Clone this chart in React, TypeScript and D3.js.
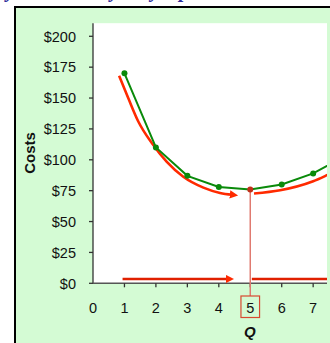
import React from "react";
import * as d3 from "d3";

const quantities = [1, 2, 3, 4, 5, 6, 7, 8];
const atcValues = [170, 110, 87, 78, 76, 80, 89, 103];
const yTicks = [0, 25, 50, 75, 100, 125, 150, 175, 200];
const xTicks = [0, 1, 2, 3, 4, 5, 6, 7];
const minQ = 5;
const redLeftQ = [0.83, 1.12, 1.44, 1.87, 2.34, 2.87, 3.51, 4.04, 4.43];
const redLeftC = [168, 150, 131, 113.5, 98.5, 86.3, 77.5, 73.2, 71.7];
const redRightQ = [5.12, 5.95, 7.0, 7.54, 8.0];
const redRightC = [72.7, 75.3, 82.6, 88.7, 94];
const floorQ1 = [0.94, 4.3];
const floorQ2 = [5.05, 8];
const floorC = 3.5;
const title = "Why a Firm May Stay Open in the Short Run";

export default function App() {
  const W = 330, H = 343;
  const x = d3.scaleLinear().domain([0, 7.44]).range([93, 327]);
  const y = d3.scaleLinear().domain([0, 210.6]).range([283.3, 23.2]);
  const green = "#0a8a0a";
  const red = "#ff2a00";
  const font = "Arial, 'Liberation Sans', sans-serif";

  const atcPts = quantities.map((q, i) => [x(q), y(atcValues[i])] as [number, number]);
  const greenLine = d3.line()(atcPts) || "";
  const curve = d3.line<[number, number]>().curve(d3.curveMonotoneX);
  const redLeft = curve(redLeftQ.map((q, i) => [x(q), y(redLeftC[i])])) || "";
  const redRight = curve(redRightQ.map((q, i) => [x(q), y(redRightC[i])])) || "";
  const floor1 = d3.line()(floorQ1.map((q) => [x(q), y(floorC)] as [number, number])) || "";
  const floor2 = d3.line()(floorQ2.map((q) => [x(q), y(floorC)] as [number, number])) || "";

  const plotL = x(0), plotR = x(7.44), plotT = y(210.6), plotB = y(0);

  return (
    <svg width={W} height={H} style={{ position: "absolute", left: 0, top: 0 }}>
      <defs>
        <clipPath id="plotclip">
          <rect x={plotL} y={plotT - 2} width={plotR - plotL} height={plotB - plotT + 6} />
        </clipPath>
        <marker id="arr" viewBox="0 0 10 10" refX="3" refY="5" markerWidth="3.2" markerHeight="3.4" orient="auto" markerUnits="strokeWidth">
          <path d="M0,0 L10,5 L0,10 Z" fill={red} />
        </marker>
      </defs>
      <rect x={0} y={0} width={W} height={H} fill="#ffffff" />
      <text x={165} y={-3} textAnchor="middle" fontFamily="'Liberation Serif', 'Times New Roman', serif" fontWeight="bold" fontStyle="italic" fontSize={20} fill="#2b2b9a">{title}</text>
      <rect x={15} y={7} width={W + 10} height={H + 10} fill="#d4fbd4" stroke="#000" strokeWidth={2} />
      <rect x={plotL} y={plotT} width={plotR - plotL} height={plotB - plotT} fill="#ffffff" />
      {/* y axis */}
      <line x1={plotL} x2={plotL} y1={plotT} y2={plotB} stroke="#333" strokeWidth={1.3} />
      {yTicks.map((t) => (
        <g key={"y" + t}>
          <line x1={plotL - 4} x2={plotL} y1={y(t)} y2={y(t)} stroke="#333" strokeWidth={1.3} />
          <text x={76} y={y(t)} dy="0.36em" textAnchor="end" fontFamily={font} fontSize={14.5} fill="#111">{"$" + t}</text>
        </g>
      ))}
      {/* x axis */}
      <line x1={plotL} x2={plotR} y1={plotB} y2={plotB} stroke="#555" strokeWidth={1.6} />
      {xTicks.map((t) => (
        <g key={"x" + t}>
          {t > 0 && <line x1={x(t)} x2={x(t)} y1={plotB} y2={plotB + 4} stroke="#333" strokeWidth={1.3} />}
          <text x={x(t)} y={313} textAnchor="middle" fontFamily={font} fontSize={14.5} fill="#111">{t}</text>
        </g>
      ))}
      <text x={x(minQ) - 0.3} y={337} textAnchor="middle" fontFamily={font} fontSize={15} fontWeight="bold" fontStyle="italic" fill="#111">Q</text>
      <text transform={`translate(35,153) rotate(-90)`} textAnchor="middle" fontFamily={font} fontSize={15} fontWeight="bold" fill="#111">Costs</text>
      {/* vertical marker */}
      <line x1={x(minQ)} x2={x(minQ)} y1={y(atcValues[minQ - 1])} y2={296} stroke="#e07a70" strokeWidth={1.5} />
      <rect x={x(minQ) - 9.3} y={296} width={18.6} height={21.5} fill="none" stroke="#d84a30" strokeWidth={1.2} />
      <g clipPath="url(#plotclip)">
        <path d={redLeft} fill="none" stroke={red} strokeWidth={2.6} markerEnd="url(#arr)" />
        <path d={redRight} fill="none" stroke={red} strokeWidth={2.6} />
        <path d={floor1} fill="none" stroke="#e02000" strokeWidth={2.6} markerEnd="url(#arr)" />
        <path d={floor2} fill="none" stroke="#e02000" strokeWidth={2.6} />
        <path d={greenLine} fill="none" stroke={green} strokeWidth={2} />
        {atcPts.map((p, i) => (
          <circle key={i} cx={p[0]} cy={p[1]} r={3} fill={quantities[i] === minQ ? "#c0301a" : green} />
        ))}
      </g>
    </svg>
  );
}
